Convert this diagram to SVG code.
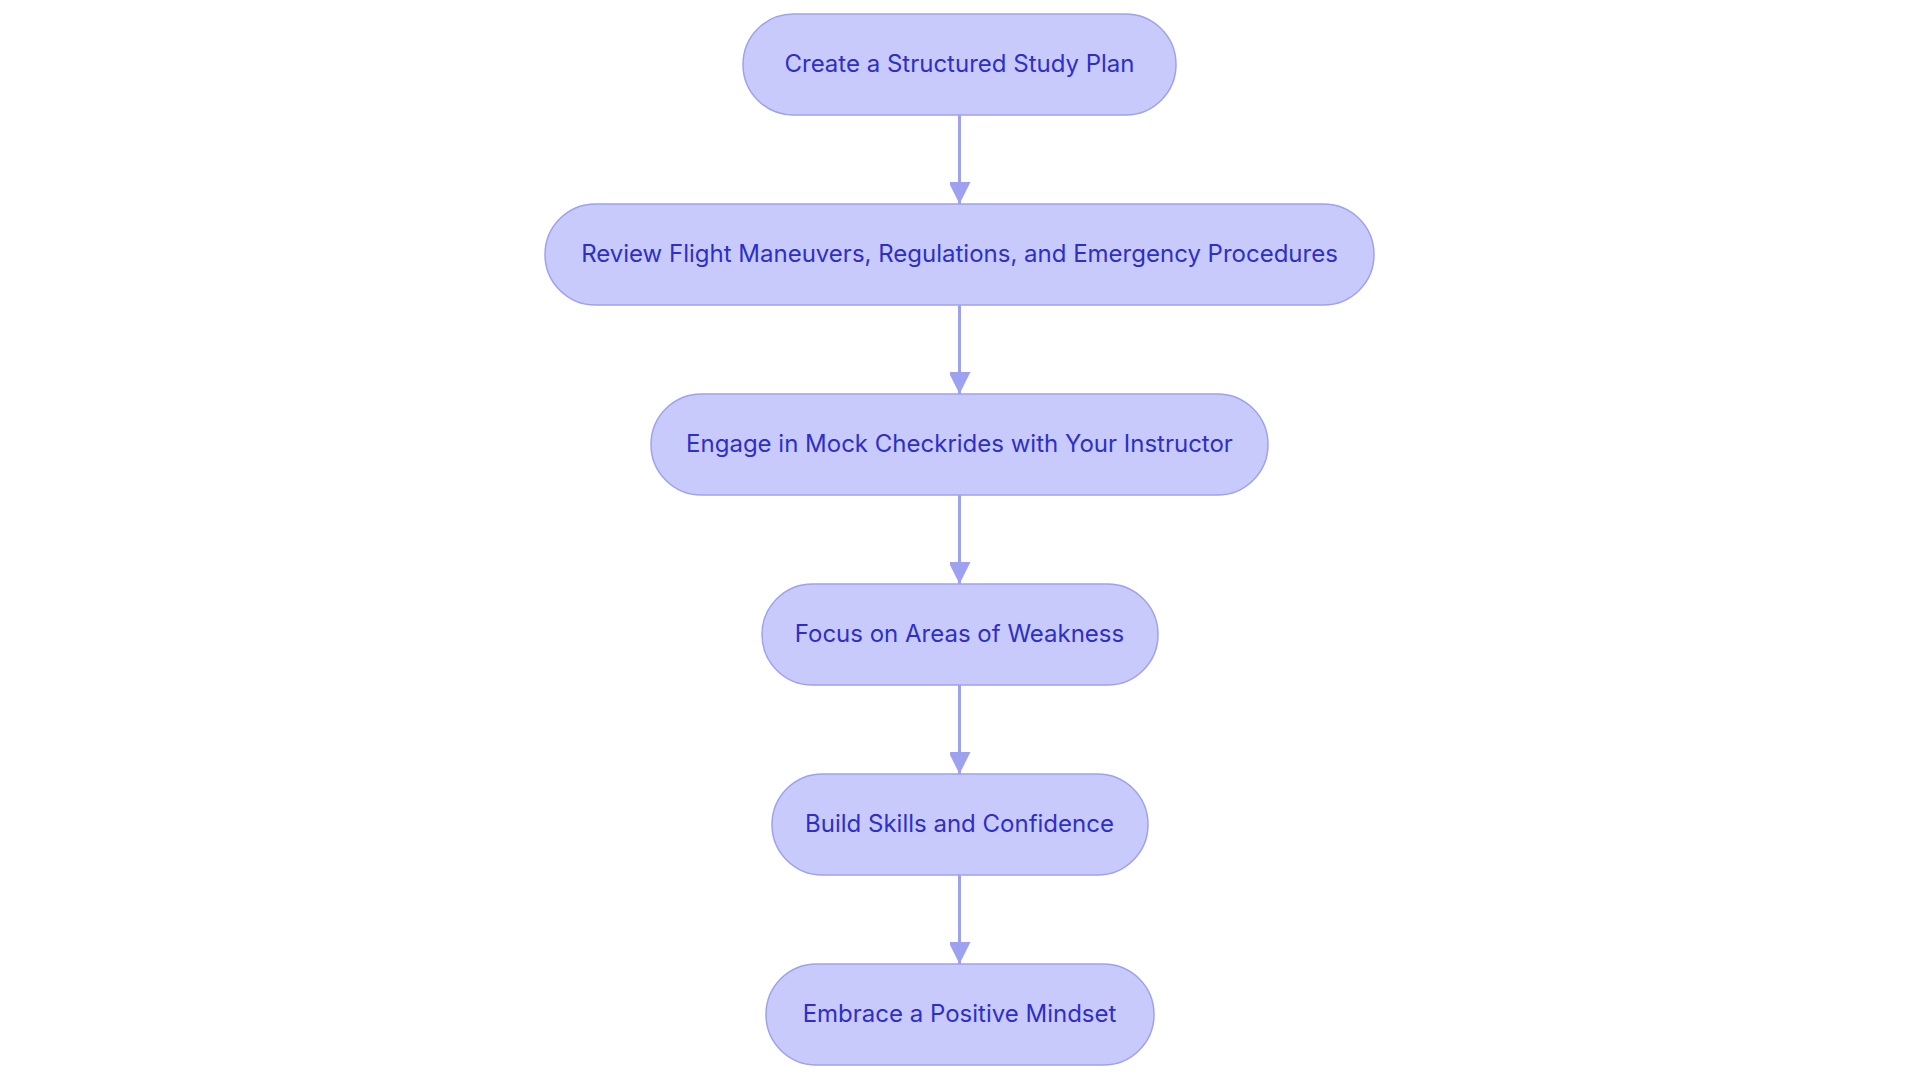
<svg xmlns="http://www.w3.org/2000/svg" width="1920" height="1083" viewBox="0 0 1920 1083">
<defs>
<marker id="arr" viewBox="0 0 22 21" refX="22" refY="11" markerWidth="22" markerHeight="21" markerUnits="userSpaceOnUse" orient="auto">
<path d="M0,0 L22,11 L0,22 Z" fill="#9ea1ef"/>
</marker>
<style>
.node rect{fill:#c9cafc;stroke:#9ea1ef;stroke-width:1.5}
.node text{font-family:Inter,"Noto Sans",sans-serif;font-size:24px;fill:#2e2ec9;text-anchor:middle}
.edge{stroke:#9ea1ef;stroke-width:3;fill:none}
</style>
</defs>
<rect width="1920" height="1083" fill="#ffffff"/>
<g id="connectors">
<path class="edge" d="M959.5,115 L959.5,204" marker-end="url(#arr)"/>
<path class="edge" d="M959.5,305 L959.5,394" marker-end="url(#arr)"/>
<path class="edge" d="M959.5,495 L959.5,584" marker-end="url(#arr)"/>
<path class="edge" d="M959.5,685 L959.5,774" marker-end="url(#arr)"/>
<path class="edge" d="M959.5,875 L959.5,964" marker-end="url(#arr)"/>
</g>
<g id="n1" class="node"><rect x="743" y="14" width="433" height="101" rx="50.5"/><text x="959.5" y="72">Create a Structured Study Plan</text></g>
<g id="n2" class="node"><rect x="545" y="204" width="829" height="101" rx="50.5"/><text x="959.5" y="262">Review Flight Maneuvers, Regulations, and Emergency Procedures</text></g>
<g id="n3" class="node"><rect x="651" y="394" width="617" height="101" rx="50.5"/><text x="959.5" y="452">Engage in Mock Checkrides with Your Instructor</text></g>
<g id="n4" class="node"><rect x="762" y="584" width="396" height="101" rx="50.5"/><text x="959.5" y="642">Focus on Areas of Weakness</text></g>
<g id="n5" class="node"><rect x="772" y="774" width="376" height="101" rx="50.5"/><text x="959.5" y="832">Build Skills and Confidence</text></g>
<g id="n6" class="node"><rect x="766" y="964" width="388" height="101" rx="50.5"/><text x="959.5" y="1022">Embrace a Positive Mindset</text></g>
</svg>
